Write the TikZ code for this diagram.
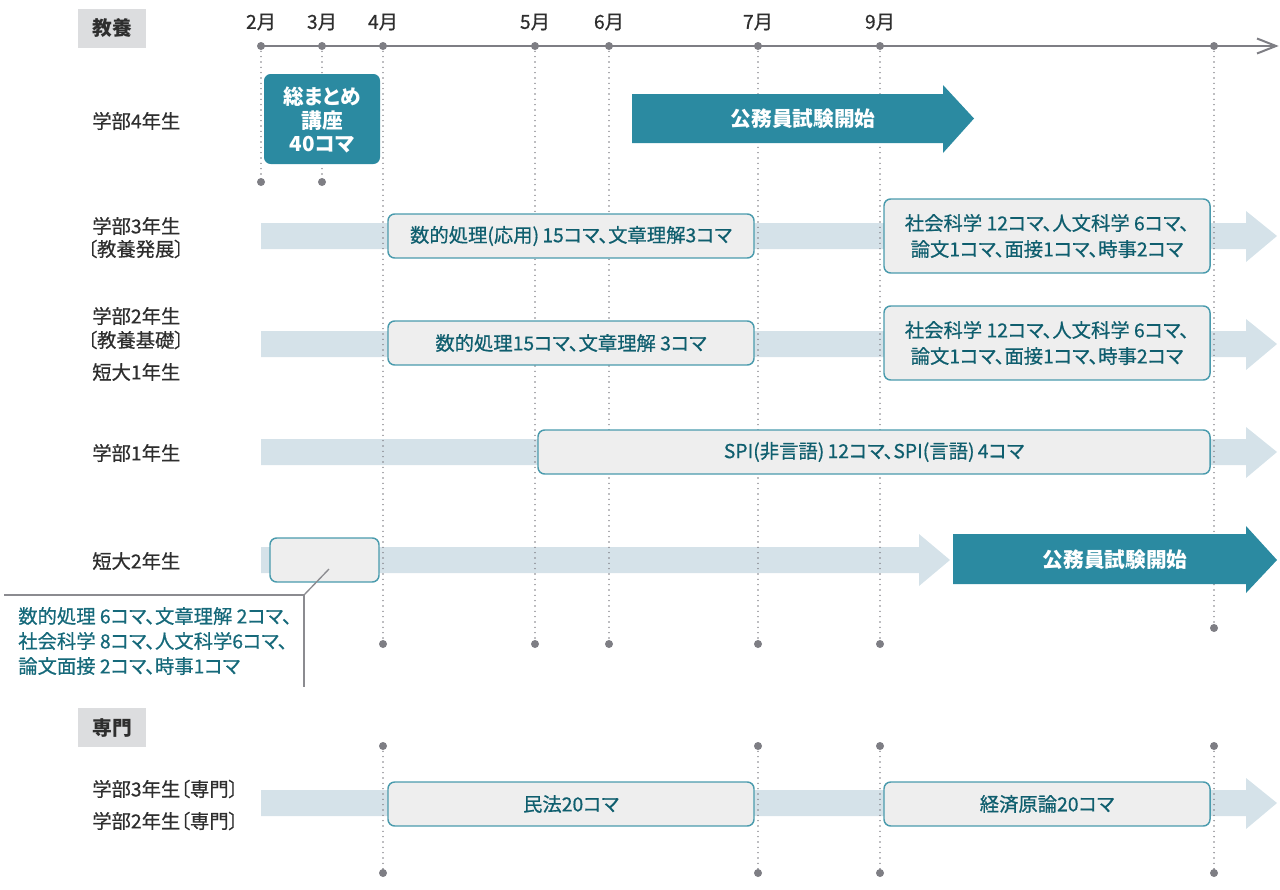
\documentclass[tikz,border=0pt]{standalone}
\usepackage{fontspec}
\setmainfont{Noto Sans CJK JP}[RawFeature={+palt}]
\newfontfamily\medfont{Noto Sans CJK JP}[RawFeature={+palt},FakeBold=0.6]
\definecolor{cTeal}{HTML}{2B8AA1}
\definecolor{cBand}{HTML}{D5E2E9}
\definecolor{cBoxFill}{HTML}{EEEEEE}
\definecolor{cBoxLine}{HTML}{4A9BAD}
\definecolor{cBoxText}{HTML}{0F5E6E}
\definecolor{cCallText}{HTML}{16697A}
\definecolor{cGrey}{HTML}{7E7E84}
\definecolor{cLabel}{HTML}{2E2E2E}
\definecolor{cHead}{HTML}{DCDDDF}
\newcommand\myfs[2]{\fontsize{#1}{#2}\selectfont}
\begin{document}
\begin{tikzpicture}[x=0.75pt,y=-0.75pt,
  band/.style={fill=cBand},
  tealarrow/.style={fill=cTeal},
  cbox/.style={fill=cBoxFill,draw=cBoxLine,line width=1.1pt,rounded corners=5pt},
  tbox/.style={fill=cTeal,rounded corners=5pt},
  btext/.style={text=cBoxText,font=\medfont\myfs{14.5}{19.5},align=center,inner sep=0pt},
  wtext/.style={text=white,font=\myfs{15.5}{18}\bfseries,align=center,inner sep=0pt},
  lbl/.style={text=cLabel,font=\medfont\myfs{14.5}{17},anchor=west,inner sep=0pt},
  month/.style={text=cLabel,font=\medfont\myfs{14.5}{17},inner sep=0pt},
  headbox/.style={fill=cHead},
  headtext/.style={text=cLabel,font=\myfs{14.8}{17}\bfseries,inner sep=0pt},
  dotl/.style={draw=cGrey,line width=1.2pt,dash pattern=on 0pt off 4pt,line cap=round},
  dotm/.style={fill=cGrey},
  axisl/.style={draw=cGrey,line width=1.5pt},
  callout/.style={draw=cGrey!90,line width=1pt},
  ctext/.style={text=cCallText,font=\medfont\myfs{14.5}{18.75},align=left,anchor=west,inner sep=0pt}
]
\useasboundingbox (0,0) rectangle (1280,889);

% ---------- header boxes ----------
\fill[headbox] (78,9) rectangle (146,48);
\node[headtext] (h1) at (112,28.5) {教養};
\fill[headbox] (78,708) rectangle (146,747);
\node[headtext] (h2) at (112,727.5) {専門};

% ---------- month labels ----------
\foreach \x/\m in {261/2,322/3,383/4,535/5,609/6,758/7,880/9}{
  \node[month] (mon\m) at (\x,22) {\m 月};
}

% ---------- row labels ----------
\node[lbl] (l4) at (92,121) {学部4年生};
\node[lbl] (l3a) at (92,226) {学部3年生};
\node[lbl] (l3b) at (92,249) {\hspace{-0.25em}〔教養発展〕};
\node[lbl] (l2a) at (92,316) {学部2年生};
\node[lbl] (l2b) at (92,340) {\hspace{-0.25em}〔教養基礎〕};
\node[lbl] (l2c) at (92,372) {短大1年生};
\node[lbl] (l1) at (92,453) {学部1年生};
\node[lbl] (ls2) at (92,561) {短大2年生};
\node[lbl] (lp3) at (92,789) {学部3年生〔専門〕};
\node[lbl] (lp2) at (92,821) {学部2年生〔専門〕};

% ---------- light band arrows ----------
\fill[band] (261,223) -- (1246,223) -- (1246,211) -- (1277,236) -- (1246,262) -- (1246,249) -- (261,249) -- cycle;
\fill[band] (261,331) -- (1246,331) -- (1246,319) -- (1277,344) -- (1246,370) -- (1246,357) -- (261,357) -- cycle;
\fill[band] (261,439) -- (1246,439) -- (1246,427) -- (1277,452) -- (1246,478) -- (1246,465) -- (261,465) -- cycle;
\fill[band] (261,547) -- (919,547) -- (919,534) -- (950,560) -- (919,586) -- (919,573) -- (261,573) -- cycle;
\fill[band] (261,790) -- (1246,790) -- (1246,778) -- (1277,803) -- (1246,829) -- (1246,816) -- (261,816) -- cycle;

% ---------- dotted guide lines ----------
\foreach \x/\n in {261/2,322/3}{
  \coordinate (t\n) at (\x,46); \coordinate (b\n) at (\x,182);
  \draw[dotl] (t\n) -- (b\n);
  \fill[dotm] (b\n) circle[radius=3pt];
}
\foreach \x/\n in {383/4,535/5,609/6,758/7,880/9}{
  \coordinate (t\n) at (\x,46); \coordinate (b\n) at (\x,644);
  \draw[dotl] (t\n) -- (b\n);
  \fill[dotm] (b\n) circle[radius=3pt];
}
\coordinate (tE) at (1214,46); \coordinate (bE) at (1214,628);
\draw[dotl] (tE) -- (bE);
\fill[dotm] (bE) circle[radius=3pt];
\foreach \x/\n in {383/4,758/7,880/9,1214/E}{
  \coordinate (pt\n) at (\x,746); \coordinate (pb\n) at (\x,873);
  \draw[dotl] (pt\n) -- (pb\n);
  \fill[dotm] (pt\n) circle[radius=3pt];
  \fill[dotm] (pb\n) circle[radius=3pt];
}

% ---------- time axis ----------
\coordinate (a0) at (261,46); \coordinate (aE) at (1276,46);
\draw[axisl] (a0) -- (aE);
\draw[axisl,line join=miter] (1257,38.5) -- (aE) -- (1257,53.5);
\foreach \n in {2,3,4,5,6,7,9,E}{ \fill[dotm] (t\n) circle[radius=3pt]; }

% ---------- 学部4年生 ----------
\fill[tbox] (264,74) rectangle (380,164);
\node[wtext] (sm1) at (322,97) {総まとめ};
\node[wtext] (sm2) at (322,120.5) {講座};
\node[wtext] (sm3) at (322,145) {40コマ};
\fill[tealarrow] (632,94) -- (943,94) -- (943,85) -- (974,118.5) -- (943,153) -- (943,143) -- (632,143) -- cycle;
\node[wtext] (exam1) at (803,118.5) {公務員試験開始};

% ---------- 学部3年生 ----------
\draw[cbox] (388,214) rectangle (754,258);
\node[btext] (r3a) at (571,236) {数的処理(応用)\,15コマ、文章理解3コマ};
\draw[cbox] (884,199) rectangle (1210,273);
\node[btext] (r3b) at (1047,236) {社会科学 12コマ、人文科学 6コマ、\\論文1コマ、面接1コマ、時事2コマ};

% ---------- 学部2年生 ----------
\draw[cbox] (388,321) rectangle (754,365);
\node[btext] (r2a) at (571,343) {数的処理15コマ、文章理解 3コマ};
\draw[cbox] (884,306) rectangle (1210,380);
\node[btext] (r2b) at (1047,343) {社会科学 12コマ、人文科学 6コマ、\\論文1コマ、面接1コマ、時事2コマ};

% ---------- 学部1年生 ----------
\draw[cbox] (538,430) rectangle (1210,474);
\node[btext] (r1) at (874,452) {SPI(非言語)\,12コマ、SPI(言語)\,4コマ};

% ---------- 短大2年生 ----------
\draw[cbox] (270,538) rectangle (379,582);
\fill[tealarrow] (953,534) -- (1246,534) -- (1246,526) -- (1277,560) -- (1246,593) -- (1246,584) -- (953,584) -- cycle;
\node[wtext] (exam2) at (1115,560) {公務員試験開始};
\coordinate (c1) at (329,569); \coordinate (c2) at (304,595);
\coordinate (c3) at (4,595); \coordinate (c4) at (304,687);
\draw[callout] (c1) -- (c2);
\draw[callout] (c3) -- (c2) -- (c4);
\node[ctext] (call) at (18,641) {数的処理 6コマ、文章理解 2コマ、\\社会科学 8コマ、人文科学6コマ、\\論文面接 2コマ、時事1コマ};

% ---------- 専門 ----------
\draw[cbox] (388,782) rectangle (754,826);
\node[btext] (p1) at (571,804) {民法20コマ};
\draw[cbox] (884,782) rectangle (1210,826);
\node[btext] (p2) at (1047,804) {経済原論20コマ};
\end{tikzpicture}
\end{document}
